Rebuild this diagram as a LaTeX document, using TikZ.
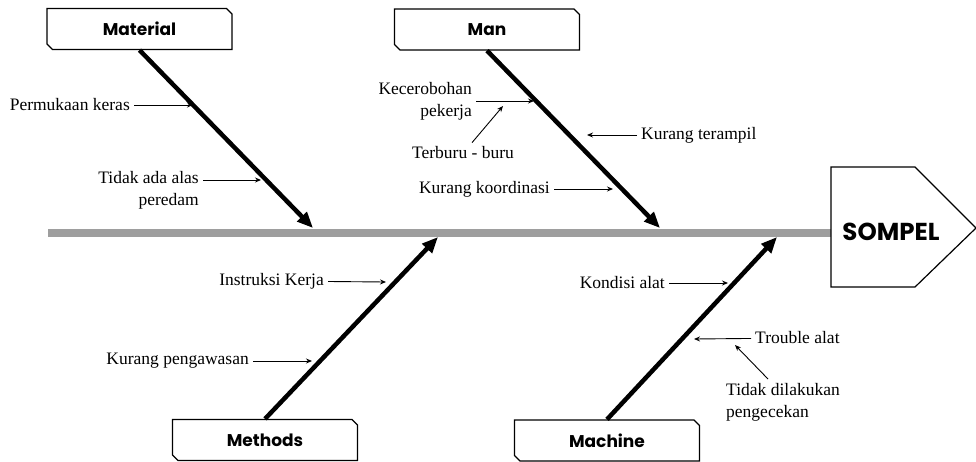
\documentclass[tikz,border=0pt]{standalone}
\usepackage{fontspec}
\setmainfont{Liberation Serif}
\newfontfamily\headfont{Poppins}
\usetikzlibrary{arrows.meta,shapes.misc}

\begin{document}
\begin{tikzpicture}[x=1pt, y=-1pt,
	category/.style={draw, line width=1.2pt, fill=white, chamfered rectangle, chamfered rectangle corners={north east,south west}, chamfered rectangle xsep=2.5pt, minimum width=185pt, minimum height=41pt, inner sep=0pt, font=\headfont\bfseries\fontsize{17}{20}\selectfont},
	bone/.style={line width=4.5pt, -{Triangle[length=16pt, width=13pt]}},
	cause/.style={font=\fontsize{17.5}{22}\selectfont, inner sep=4pt},
	sub/.style={line width=0.9pt, -{Stealth[length=6pt, width=5pt]}}]
	\useasboundingbox (0,0) rectangle (976,461);
	\coordinate(tail) at (48,233);
	\coordinate(head) at (831,233);
	\draw [line width=8pt, color=black!38] (tail) -- (head);
	\draw [line width=1.2pt, fill=white] (831,167) -- (915,167) -- (976,228) -- (915,287) -- (831,287) -- cycle;
	\node(effect) at (891,232){\headfont\bfseries\fontsize{24.5}{28}\selectfont SOMPEL};

	\node[category](Material) at (139.5,29){Material};
	\node[category](Man) at (487,29.5){Man};
	\node[category](Methods) at (265,440){Methods};
	\node[category](Machine) at (607,440.5){Machine};

	\coordinate(matTip) at (313,228);
	\coordinate(manTip) at (660,228);
	\coordinate(metTip) at (438,237);
	\coordinate(macTip) at (777,237);
	\draw [bone] (Material.south) -- (matTip);
	\draw [bone] (Man.south) -- (manTip);
	\draw [bone] (Methods.north) -- (metTip);
	\draw [bone] (Machine.north) -- (macTip);

	\node[cause, anchor=east](permukaan) at (134,105){Permukaan keras};
	\node[cause, anchor=north east, align=right](alas) at (203,167){Tidak ada alas\\peredam};
	\node[cause, anchor=east, align=right](ceroboh) at (476,101){Kecerobohan\\pekerja};
	\node[cause](buru) at (463,153){Terburu - buru};
	\node[cause, anchor=west](terampil) at (637,135){Kurang terampil};
	\node[cause, anchor=east](koordinasi) at (554,189){Kurang koordinasi};
	\node[cause, anchor=east](instruksi) at (328,281){Instruksi Kerja};
	\node[cause, anchor=east](pengawasan) at (253,361){Kurang pengawasan};
	\node[cause, anchor=east](kondisi) at (669,283){Kondisi alat};
	\node[cause, anchor=west](trouble) at (751,338){Trouble alat};
	\node[cause, anchor=north west, align=left](cek) at (722,379){Tidak dilakukan\\pengecekan};

	\coordinate(e1) at (193,105);
	\coordinate(e2) at (261,180);
	\coordinate(e3) at (534,101);
	\coordinate(e4) at (503,106);
	\coordinate(e5) at (587,135);
	\coordinate(e6) at (613,189);
	\coordinate(e7) at (386,282);
	\coordinate(e8) at (312,361);
	\coordinate(e9) at (728,283);
	\coordinate(e10) at (694,339);
	\coordinate(e11) at (735,345);
	\draw [sub] (permukaan) -- (e1);
	\draw [sub] (alas.north east |- e2) -- (e2);
	\draw [sub] (ceroboh) -- (e3);
	\draw [sub] ([xshift=9pt]buru.north) -- (e4);
	\draw [sub] (terampil) -- (e5);
	\draw [sub] (koordinasi) -- (e6);
	\draw [sub] (instruksi) -- (e7);
	\draw [sub] (pengawasan) -- (e8);
	\draw [sub] (kondisi) -- (e9);
	\draw [sub] (trouble) -- (e10);
	\draw [sub] ([xshift=-15pt]cek.north) -- (e11);
\end{tikzpicture}
\end{document}
